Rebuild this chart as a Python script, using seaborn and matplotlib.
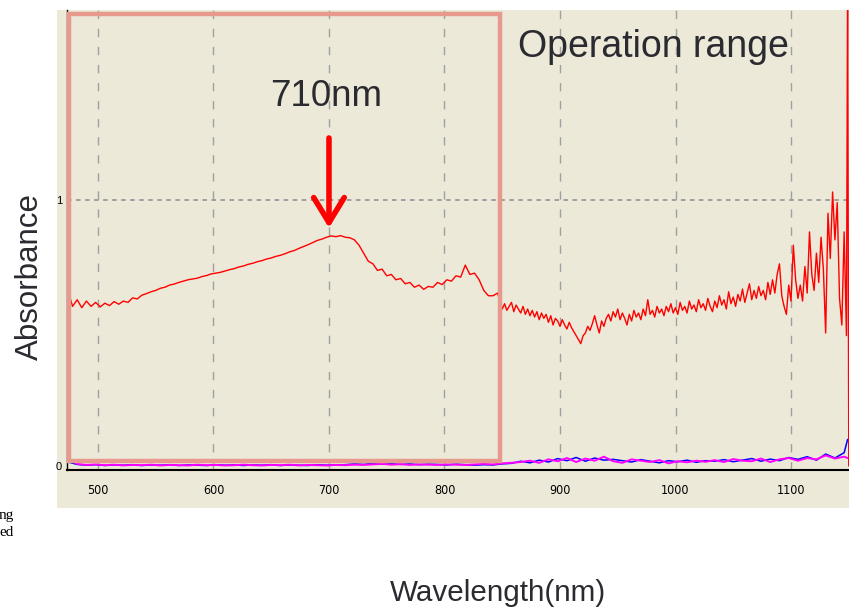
import numpy as np
import pandas as pd
import matplotlib
matplotlib.use("Agg")
import matplotlib.pyplot as plt
from matplotlib.patches import Rectangle
import seaborn as sns

# ---------------- data ----------------
# smooth part (4 nm sampling) + noisy part (2 nm sampling) + right-edge tail
red_wavelength = (list(np.arange(474, 847, 4)) + list(np.arange(848, 1147, 2))
                  + [1148, 1149, 1150])
red_absorbance = [
    # 474 - 846 nm
    0.66, 0.60, 0.625, 0.595, 0.62, 0.60, 0.615, 0.598, 0.612, 0.603,
    0.618, 0.608, 0.62, 0.615, 0.632, 0.628, 0.642, 0.648, 0.655, 0.66,
    0.668, 0.672, 0.68, 0.684, 0.69, 0.695, 0.70, 0.703, 0.706, 0.712,
    0.716, 0.722, 0.725, 0.728, 0.733, 0.738, 0.742, 0.748, 0.752, 0.758,
    0.762, 0.768, 0.772, 0.778, 0.782, 0.788, 0.792, 0.798, 0.805, 0.81,
    0.818, 0.825, 0.832, 0.84, 0.848, 0.853, 0.86, 0.865, 0.862, 0.866,
    0.86, 0.858, 0.85, 0.83, 0.80, 0.77, 0.76, 0.735, 0.74, 0.715,
    0.72, 0.70, 0.705, 0.685, 0.69, 0.672, 0.68, 0.664, 0.675, 0.672,
    0.69, 0.682, 0.70, 0.695, 0.715, 0.71, 0.755, 0.72, 0.725, 0.70,
    0.66, 0.64, 0.64, 0.65,
    # 848 - 1146 nm
    0.62, 0.59, 0.61, 0.585, 0.60, 0.615, 0.58, 0.605, 0.59, 0.575,
    0.60, 0.57, 0.59, 0.565, 0.585, 0.56, 0.58, 0.55, 0.575, 0.555,
    0.57, 0.54, 0.565, 0.53, 0.555, 0.545, 0.525, 0.55, 0.53, 0.515,
    0.54, 0.52, 0.505, 0.49, 0.475, 0.46, 0.49, 0.50, 0.525, 0.51,
    0.535, 0.565, 0.53, 0.50, 0.545, 0.525, 0.555, 0.57, 0.545, 0.58,
    0.56, 0.59, 0.55, 0.575, 0.555, 0.53, 0.57, 0.545, 0.585, 0.56,
    0.575, 0.55, 0.59, 0.565, 0.625, 0.57, 0.585, 0.56, 0.60, 0.575,
    0.59, 0.565, 0.60, 0.58, 0.61, 0.575, 0.595, 0.57, 0.615, 0.585,
    0.60, 0.575, 0.62, 0.59, 0.605, 0.58, 0.625, 0.595, 0.61, 0.585,
    0.63, 0.60, 0.58, 0.62, 0.595, 0.64, 0.605, 0.625, 0.59, 0.655,
    0.61, 0.635, 0.60, 0.645, 0.62, 0.665, 0.615, 0.65, 0.685, 0.625,
    0.66, 0.63, 0.675, 0.64, 0.66, 0.625, 0.69, 0.645, 0.70, 0.65,
    0.72, 0.76, 0.64, 0.60, 0.57, 0.68, 0.62, 0.83, 0.70, 0.63,
    0.68, 0.62, 0.75, 0.65, 0.88, 0.72, 0.66, 0.80, 0.69, 0.86,
    0.74, 0.50, 0.95, 0.78, 1.03, 0.85, 0.99, 0.63, 0.53, 0.88,
    # tail
    0.49, 1.85, 0.0,
]

noise_wavelength = list(np.arange(474, 1147, 8)) + [1149]
magenta_absorbance = [
    0.03, 0.008, 0.004, 0.006, 0.003, 0.005, 0.002, 0.004, 0.003, 0.005,
    0.002, 0.004, 0.003, 0.002, 0.005, 0.003, 0.004, 0.002, 0.003, 0.005,
    0.003, 0.002, 0.004, 0.003, 0.005, 0.002, 0.004, 0.003, 0.002, 0.004,
    0.003, 0.005, 0.004, 0.006, 0.008, 0.005, 0.007, 0.004, 0.006, 0.005,
    0.004, 0.006, 0.005, 0.004, 0.006, 0.008, 0.006, 0.01, 0.012, 0.015,
    0.02, 0.012, 0.025, 0.018, 0.03, 0.015, 0.028, 0.02, 0.035, 0.018,
    0.012, 0.025, 0.02, 0.015, 0.022, 0.01, 0.018, 0.014, 0.02, 0.016,
    0.022, 0.015, 0.026, 0.02, 0.018, 0.028, 0.015, 0.025, 0.03, 0.02,
    0.03, 0.025, 0.04, 0.028, 0.035, 0.03,
]
blue_absorbance = [
    0.015, 0.006, 0.003, 0.005, 0.002, 0.004, 0.003, 0.005, 0.002, 0.004,
    0.003, 0.005, 0.002, 0.004, 0.003, 0.002, 0.005, 0.003, 0.004, 0.002,
    0.004, 0.003, 0.005, 0.002, 0.004, 0.003, 0.002, 0.005, 0.003, 0.004,
    0.005, 0.008, 0.006, 0.01, 0.007, 0.009, 0.006, 0.008, 0.005, 0.007,
    0.006, 0.004, 0.007, 0.005, 0.003, 0.005, 0.004, 0.008, 0.01, 0.018,
    0.012, 0.022, 0.015, 0.028, 0.02, 0.032, 0.018, 0.03, 0.022, 0.025,
    0.02, 0.015, 0.024, 0.018, 0.012, 0.02, 0.016, 0.022, 0.014, 0.02,
    0.018, 0.024, 0.016, 0.022, 0.028, 0.018, 0.026, 0.02, 0.032, 0.025,
    0.035, 0.022, 0.045, 0.03, 0.05, 0.10,
]

x_ticks = [500, 600, 700, 800, 900, 1000, 1100]
y_ticks = [0, 1]
peak_nm = 700
peak_label = "710nm"
range_label = "Operation range"
operation_range = (474.9, 848.0)

# ---------------- styling ----------------
sns.set_style("white")
plt.rcParams["font.family"] = ["Liberation Sans", "DejaVu Sans"]

W, H = 849, 607
BEIGE = "#ECE9D8"
SALMON = "#E6998C"
TEXT = "#2a2a30"

fig = plt.figure(figsize=(W / 100, H / 100), dpi=100)
fig.patch.set_facecolor("white")

bg = Rectangle((57 / W, 1 - 508 / H), (849 - 57) / W, (508 - 10) / H,
               transform=fig.transFigure, facecolor=BEIGE, edgecolor="none", zorder=-5)
fig.add_artist(bg)

ax = fig.add_axes([67 / W, 1 - 470 / H, (849 - 67) / W, (470 - 10) / H])
ax.set_facecolor(BEIGE)

df_red = pd.DataFrame({"wl": red_wavelength, "A": red_absorbance})
df_noise = pd.DataFrame({"wl": noise_wavelength, "m": magenta_absorbance, "b": blue_absorbance})

sns.lineplot(data=df_noise, x="wl", y="b", color="#0000FF", lw=1.1, ax=ax,
             estimator=None, sort=False, zorder=2)
sns.lineplot(data=df_noise, x="wl", y="m", color="#FF00FF", lw=1.4, ax=ax,
             estimator=None, sort=False, zorder=2.1)
sns.lineplot(data=df_red, x="wl", y="A", color="#FF0000", lw=1.0, ax=ax,
             estimator=None, sort=False, zorder=3)

ax.set_xlim(473.2, 1150.2)
ax.set_ylim(-0.015, 1.714)

for xv in x_ticks:
    ax.axvline(xv, color="#A0A0A0", lw=1.0, ls=(0, (6, 7)), zorder=1)
ax.axhline(1, color="#999999", lw=1.3, ls=(0, (2.5, 2.5)), zorder=1)

for s in ["top", "right"]:
    ax.spines[s].set_visible(False)
ax.spines["bottom"].set_color("black")
ax.spines["bottom"].set_linewidth(1.5)
ax.spines["left"].set_color("black")
ax.spines["left"].set_linewidth(1.0)

ax.set_xticks(x_ticks)
ax.set_xticklabels([str(v) for v in x_ticks], fontfamily=["DejaVu Sans"],
                   fontstretch="condensed", fontsize=9)
ax.tick_params(axis="x", direction="out", length=6, width=1.2, pad=4, colors="black")
ax.set_yticks(y_ticks)
ax.set_yticklabels([str(v) for v in y_ticks], fontsize=8)
ax.tick_params(axis="y", direction="out", length=3, width=1, pad=0.5, colors="black")
ax.set_xlabel("")
ax.set_ylabel("")

ax.add_patch(Rectangle((operation_range[0], 0.019), operation_range[1] - operation_range[0],
                       1.70 - 0.019, fill=False, edgecolor=SALMON, lw=3.2, zorder=4,
                       clip_on=False))

ax.annotate("", xy=(peak_nm, 0.895), xytext=(peak_nm, 1.233),
            arrowprops=dict(arrowstyle="->,head_length=0.9,head_width=0.55",
                            color="#FF0000", lw=4, shrinkA=0, shrinkB=0,
                            mutation_scale=20),
            zorder=5)

fig.text(326 / W, 1 - 97 / H, peak_label, fontsize=26.5, color=TEXT, ha="center", va="center")
fig.text(518 / W, 1 - 47 / H, range_label, fontsize=27, color=TEXT, ha="left", va="center")
fig.text(30 / W, 1 - 277 / H, "Absorbance", fontsize=22.5, color=TEXT, rotation=90,
         ha="center", va="center")
fig.text(498 / W, 1 - 593 / H, "Wavelength(nm)", fontsize=21.3, color=TEXT,
         ha="center", va="center")

fig.text(14 / W, 1 - 516 / H, "ng", fontsize=11, color="black", ha="right", va="center",
         fontfamily=["Liberation Serif", "DejaVu Serif"])
fig.text(14 / W, 1 - 532 / H, "ed", fontsize=11, color="black", ha="right", va="center",
         fontfamily=["Liberation Serif", "DejaVu Serif"])

fig.savefig("out.png", dpi=100, facecolor="white")
